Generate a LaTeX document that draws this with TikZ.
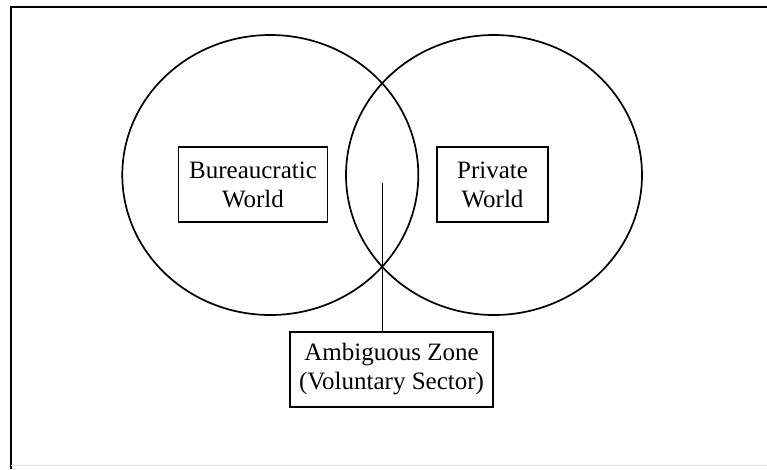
\documentclass[tikz,border=0pt]{standalone}
\usepackage{fontspec}
\setmainfont{Liberation Serif}
\begin{document}
\begin{tikzpicture}[x=1pt,y=-1pt,
  lbl/.style={draw,line width=1.7pt,align=center,font=\fontsize{25}{29}\selectfont,inner sep=0pt,minimum height=75.5pt},
  ring/.style={draw,line width=1.7pt}]
\useasboundingbox (0,0) rectangle (767,469);
% frame
\draw[line width=2pt] (11,469) -- (11,6.5) -- (767,6.5);
\draw[line width=1pt,black!12] (11,465.5) -- (767,465.5);
% circles
\draw[ring] (270.3,175) ellipse [x radius=148, y radius=140];
\draw[ring] (494,175) ellipse [x radius=148, y radius=140];
% boxes
\node[lbl,minimum width=149pt] (bw) at (253,184.5) {Bureaucratic\\World};
\node[lbl,minimum width=111pt] (pw) at (492.5,184.5) {Private\\World};
\node[lbl,minimum width=203pt,minimum height=75pt] (az) at (391.5,369.5) {Ambiguous Zone\\(Voluntary Sector)};
% connector
\coordinate (zt) at (382.3,183.3);
\draw[line width=1.5pt] (zt) -- (zt |- az.north);
\end{tikzpicture}
\end{document}
